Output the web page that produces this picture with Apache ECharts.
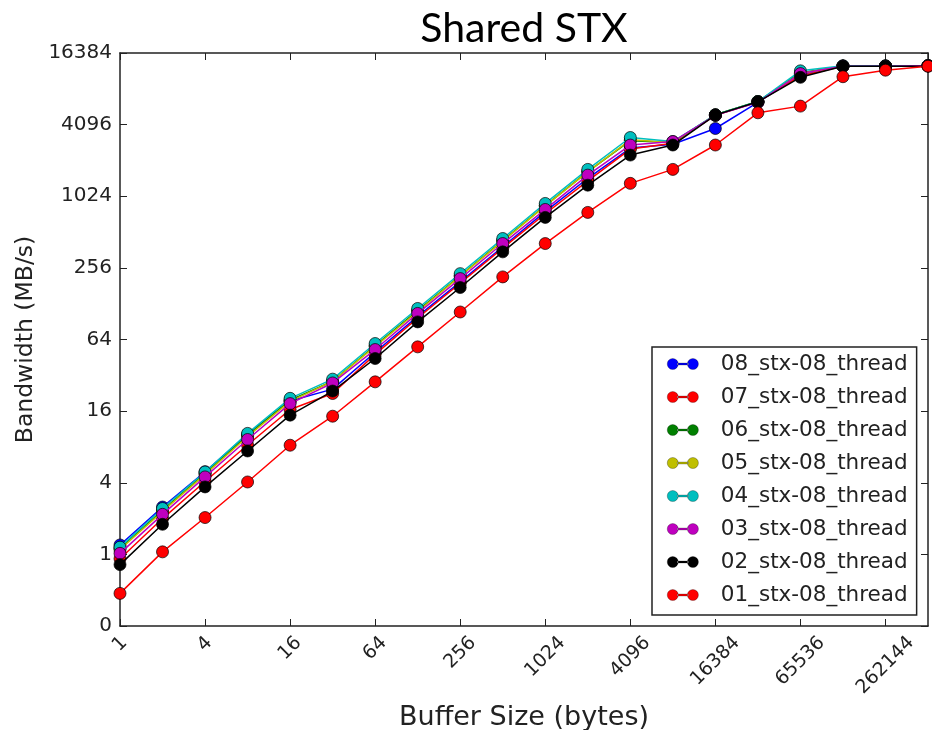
<!DOCTYPE html>
<html>
<head>
<meta charset="utf-8">
<script src="https://cdn.jsdelivr.net/npm/echarts@6/dist/echarts.min.js"></script>
<style>
  html, body { margin: 0; padding: 0; background: #fff; }
  #showChart { width: 932px; height: 730px; }
</style>
</head>
<body>
<div id="showChart"></div>
<script>
// buffer sizes in bytes (x), bandwidth MB/s per run (y)
var bufferSizes = [1, 2, 4, 8, 16, 32, 64, 128, 256, 512, 1024, 2048, 4096, 8192, 16384, 32768, 65536, 131072, 262144, 524288];

var s08 = [1.2, 2.5, 4.95, 10.2, 19.5, 24.5, 50, 100, 195, 385, 760, 1450, 2600, 2800, 3800, 6300, 10800, 12700, 12700, 12800];
var s07 = [0.92, 2.0, 4.1, 8.3, 16.5, 22.5, 48, 97, 190, 375, 730, 1380, 2550, 2850, 4900, 6350, 10500, 12700, 12700, 12800];
var s06 = [1.13, 2.35, 4.8, 10.0, 19.8, 28.5, 57, 112, 220, 435, 855, 1650, 3000, 2900, 4950, 6400, 11200, 12700, 12700, 12800];
var s05 = [1.1, 2.3, 4.7, 9.8, 19.3, 28.5, 56, 110, 218, 430, 850, 1640, 3050, 2900, 4950, 6400, 11000, 12700, 12700, 12800];
var s04 = [1.15, 2.43, 4.93, 10.4, 20.5, 29.7, 59.2, 116.7, 229, 452, 891, 1722, 3192, 2950, 4950, 6400, 11600, 12800, 12800, 12800];
var s03 = [1.02, 2.17, 4.48, 9.24, 18.5, 27.6, 52.7, 106, 208, 410, 793, 1541, 2758, 2950, 4900, 6300, 11000, 12700, 12700, 12800];
var s02 = [0.82, 1.79, 3.69, 7.4, 14.8, 23.6, 44.3, 90, 175, 349, 680, 1269, 2272, 2760, 4930, 6370, 10230, 12700, 12700, 12700];
var s01 = [0.47, 1.05, 2.04, 4.06, 8.27, 14.5, 28.2, 55.5, 109, 215, 410, 749, 1314, 1722, 2760, 5150, 5860, 10350, 11750, 12700];

var seriesNames = ['08_stx-08_thread', '07_stx-08_thread', '06_stx-08_thread', '05_stx-08_thread',
                   '04_stx-08_thread', '03_stx-08_thread', '02_stx-08_thread', '01_stx-08_thread'];
var seriesValues = [s08, s07, s06, s05, s04, s03, s02, s01];
var seriesColors = ['#0000ff', '#ff0000', '#008000', '#bfbf00', '#00bfbf', '#bf00bf', '#000000', '#ff0000'];

var AXIS_COLOR = '#222';
var FONT = 'DejaVu Sans';

function pairs(vals) {
    return vals.map(function (v, i) { return [bufferSizes[i], v]; });
}

// rotated x labels centred under the tick like matplotlib: pad each label by half its width
var XFS = 19;
var DIGIT_W = XFS * 0.636;
var xRich = {};
for (var n = 1; n <= 6; n++) {
    var p = Math.round(n * DIGIT_W * 0.5);
    xRich['l' + n] = { fontFamily: FONT, fontSize: XFS, color: AXIS_COLOR, padding: [p, p, 0, 0] };
}

var series = seriesNames.map(function (name, k) {
    return {
        name: name,
        type: 'line',
        xAxisIndex: 0,
        yAxisIndex: 0,
        data: pairs(seriesValues[k]),
        symbol: 'circle',
        symbolSize: 12,
        showAllSymbol: true,
        lineStyle: { color: seriesColors[k], width: 1.5 },
        itemStyle: { color: seriesColors[k], borderColor: '#000', borderWidth: 0.7 },
        emphasis: { disabled: true },
        z: 2 + k
    };
});

var tickStyle = { show: true, inside: true, length: 7, lineStyle: { color: AXIS_COLOR, width: 1 } };
var lineStyle = { show: true, lineStyle: { color: AXIS_COLOR, width: 1.5 } };

option = {
    animation: false,
    backgroundColor: '#fff',
    title: {
        text: 'Shared STX',
        left: 519,
        textAlign: 'center',
        top: 3,
        textStyle: { fontFamily: 'Lato', fontSize: 41, fontWeight: 'normal', color: '#000' }
    },
    grid: { left: 120, right: 4, top: 53, bottom: 104, containLabel: false, outerBoundsMode: 'none' },
    legend: {
        orient: 'vertical',
        left: 652,
        top: 347,
        data: seriesNames,
        icon: 'path://M0,6a6,6 0 1,0 12,0a6,6 0 1,0 -12,0zM11,5h12v2h-12zM22,6a6,6 0 1,0 12,0a6,6 0 1,0 -12,0z',
        itemWidth: 32,
        itemHeight: 11,
        itemGap: 11,
        padding: [6, 9, 9, 15],
        borderColor: '#222',
        borderWidth: 1.5,
        borderRadius: 0,
        backgroundColor: '#fff',
        itemStyle: { borderColor: 'rgba(0,0,0,0.55)', borderWidth: 0.5 },
        textStyle: { fontFamily: FONT, fontSize: 21.5, color: AXIS_COLOR, lineHeight: 20, padding: [0, 0, 0, 17] },
        selectedMode: false
    },
    xAxis: [{
        type: 'log',
        logBase: 2,
        min: 1,
        max: 524288,
        interval: 2,
        position: 'bottom',
        name: 'Buffer Size (bytes)',
        nameLocation: 'middle',
        nameGap: 66,
        nameTextStyle: { fontFamily: FONT, fontSize: 27, color: AXIS_COLOR },
        axisLine: lineStyle,
        axisTick: tickStyle,
        minorTick: { show: false },
        splitLine: { show: false },
        axisLabel: {
            rotate: 45,
            align: 'center',
            verticalAlign: 'middle',
            margin: 14,
            showMaxLabel: false,
            formatter: function (v) {
                var r = Math.round(v);
                if (r >= 524288) return '';
                var s = String(r);
                return '{l' + s.length + '|' + s + '}';
            },
            rich: xRich
        }
    }, {
        type: 'log',
        logBase: 2,
        min: 1,
        max: 524288,
        interval: 2,
        position: 'top',
        axisLine: lineStyle,
        axisTick: tickStyle,
        axisLabel: { show: false },
        splitLine: { show: false }
    }],
    yAxis: [{
        type: 'log',
        logBase: 2,
        min: 0.25,
        max: 16384,
        interval: 2,
        position: 'left',
        name: 'Bandwidth (MB/s)',
        nameLocation: 'middle',
        nameGap: 79,
        nameTextStyle: { fontFamily: FONT, fontSize: 23.5, color: AXIS_COLOR },
        axisLine: lineStyle,
        axisTick: tickStyle,
        splitLine: { show: false },
        axisLabel: {
            margin: 8,
            fontFamily: FONT,
            fontSize: 20,
            color: AXIS_COLOR,
            formatter: function (v) {
                return v < 1 ? '0' : String(Math.round(v));
            }
        }
    }, {
        type: 'log',
        logBase: 2,
        min: 0.25,
        max: 16384,
        interval: 2,
        position: 'right',
        axisLine: lineStyle,
        axisTick: tickStyle,
        axisLabel: { show: false },
        splitLine: { show: false }
    }],
    series: series
};

var myChart = echarts.init(document.getElementById('showChart'), null, { renderer: 'canvas' });
myChart.setOption(option);
</script>
</body>
</html>
